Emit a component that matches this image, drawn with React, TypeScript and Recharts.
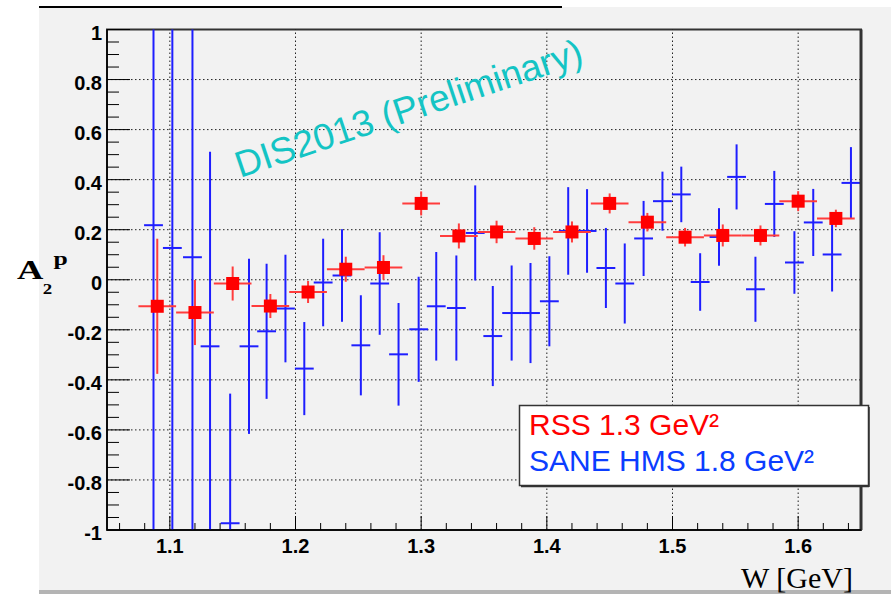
import {
  ComposedChart,
  Scatter,
  ErrorBar,
  XAxis,
  YAxis,
  ReferenceLine,
  ReferenceArea,
} from 'recharts';

// RSS, Q^2 = 1.3 GeV^2 (red squares)
const rssW = [1.09, 1.12, 1.15, 1.18, 1.21, 1.24, 1.27, 1.3, 1.33, 1.36, 1.39, 1.42, 1.45, 1.48, 1.51, 1.54, 1.57, 1.6, 1.63];
const rssA2 = [-0.106, -0.131, -0.015, -0.105, -0.049, 0.042, 0.049, 0.305, 0.175, 0.191, 0.165, 0.191, 0.305, 0.23, 0.17, 0.177, 0.177, 0.314, 0.245];
const rssErr = [0.27, 0.13, 0.068, 0.048, 0.044, 0.05, 0.049, 0.048, 0.05, 0.045, 0.045, 0.042, 0.04, 0.037, 0.037, 0.044, 0.04, 0.04, 0.035];
const rssBinHalf = 0.015;

// SANE HMS, Q^2 = 1.8 GeV^2 (blue crosses)
const saneW = [1.087, 1.102, 1.118, 1.132, 1.148, 1.163, 1.177, 1.192, 1.207, 1.222, 1.237, 1.252, 1.267, 1.282, 1.298, 1.312, 1.328, 1.343, 1.357, 1.372, 1.387, 1.402, 1.417, 1.432, 1.447, 1.462, 1.477, 1.492, 1.507, 1.522, 1.537, 1.551, 1.566, 1.581, 1.597, 1.612, 1.627, 1.642];
const saneA2 = [0.218, 0.127, 0.09, -0.266, -0.973, -0.266, -0.206, -0.115, -0.355, -0.011, 0.017, -0.262, -0.015, -0.298, -0.198, -0.106, -0.113, 0.187, -0.225, -0.133, -0.133, -0.086, 0.195, 0.195, 0.047, -0.015, 0.165, 0.314, 0.341, -0.009, 0.171, 0.411, -0.038, 0.303, 0.069, 0.229, 0.101, 0.387];
const saneErr = [1.5, 1.5, 1.5, 0.777, 0.518, 0.35, 0.27, 0.215, 0.186, 0.175, 0.185, 0.2, 0.205, 0.205, 0.21, 0.217, 0.21, 0.19, 0.2, 0.19, 0.2, 0.18, 0.175, 0.167, 0.16, 0.16, 0.15, 0.118, 0.111, 0.115, 0.115, 0.13, 0.13, 0.132, 0.125, 0.134, 0.148, 0.143];
const saneBinHalf = 0.0075;

const xDomain = [1.05, 1.65];
const yDomain = [-1, 1];
const xGrid = [1.1, 1.2, 1.3, 1.4, 1.5, 1.6];
const yGrid = [-0.8, -0.6, -0.4, -0.2, 0, 0.2, 0.4, 0.6, 0.8];
const xTicks = Array.from({ length: 30 }, (_, i) => Math.round((1.06 + i * 0.02) * 100) / 100);
const yTicks = Array.from({ length: 41 }, (_, i) => Math.round((-1 + i * 0.05) * 100) / 100);

// error bars clipped to the visible frame like ROOT does
const clip = (a: number, e: number) => [a - Math.max(yDomain[0], a - e), Math.min(yDomain[1], a + e) - a];

const rssData = rssW.map((w, i) => ({ w, a: rssA2[i], ex: rssBinHalf, ey: rssErr[i] }));
const saneData = saneW.map((w, i) => ({ w, a: saneA2[i], ex: saneBinHalf, ey: clip(saneA2[i], saneErr[i]) }));

const RED = '#ff0000';
const BLUE = '#1e1eff';
const SANS = '"Liberation Sans", Arial, sans-serif';
const SERIF = '"Liberation Serif", "Times New Roman", serif';

const isMajor = (v: number, step: number) => Math.abs(v / step - Math.round(v / step)) < 1e-6;

const YTick = (p: any) => {
  const v = p.payload.value;
  const major = isMajor(v, 0.2);
  return (
    <g>
      <line x1={p.x} x2={p.x + (major ? 23 : 12)} y1={p.y} y2={p.y} stroke="#000" strokeWidth={1} />
      {major && (
        <text x={p.x - 5} y={p.y + 10} textAnchor="end" fontFamily={SANS} fontWeight="bold" fontSize={20} fill="#000">
          {v === 0 ? '0' : String(v)}
        </text>
      )}
    </g>
  );
};

const XTick = (p: any) => {
  const v = p.payload.value;
  const major = isMajor(v, 0.1);
  return (
    <g>
      <line x1={p.x} x2={p.x} y1={p.y} y2={p.y - (major ? 14 : 7)} stroke="#000" strokeWidth={1} />
      {major && (
        <text x={p.x} y={p.y + 23} textAnchor="middle" fontFamily={SANS} fontWeight="bold" fontSize={20} fill="#000">
          {v.toFixed(1)}
        </text>
      )}
    </g>
  );
};

const RedSquare = (p: any) => <rect x={p.cx - 6.5} y={p.cy - 6.5} width={13} height={13} fill={RED} />;
const NoMarker = () => <g />;

export default function App() {
  return (
    <div style={{ position: 'absolute', left: 0, top: 0, width: 895, height: 594, background: '#fff', overflow: 'hidden' }}>
      <div style={{ position: 'absolute', left: 39, top: 7, width: 852, height: 583, background: '#f2f2f2' }} />
      <div style={{ position: 'absolute', left: 39, top: 590, width: 852, height: 4, background: '#b4b4b4' }} />
      <div style={{ position: 'absolute', left: 39, top: 6, width: 523, height: 2, background: '#000' }} />

      <div style={{ position: 'absolute', left: 0, top: 0 }}>
        <ComposedChart width={895} height={594} margin={{ top: 29.5, right: 34, bottom: 34, left: 0 }}>
          <XAxis
            type="number"
            dataKey="w"
            domain={xDomain}
            ticks={xTicks}
            interval={0}
            allowDataOverflow
            height={30}
            tickSize={0}
            tickMargin={0}
            tickLine={false}
            axisLine={{ stroke: '#000', strokeWidth: 1.5 }}
            tick={(p: any) => <XTick {...p} />}
          />
          <YAxis
            type="number"
            dataKey="a"
            domain={yDomain}
            ticks={yTicks}
            interval={0}
            allowDataOverflow
            width={107}
            tickSize={0}
            tickMargin={0}
            tickLine={false}
            axisLine={{ stroke: '#000', strokeWidth: 1.5 }}
            tick={(p: any) => <YTick {...p} />}
          />
          {xGrid.map((v) => (
            <ReferenceLine key={`gx${v}`} x={v} stroke="#222" strokeWidth={1} strokeDasharray="1.5 2.5" />
          ))}
          {yGrid.map((v) => (
            <ReferenceLine key={`gy${v}`} y={v} stroke="#222" strokeWidth={1} strokeDasharray="1.5 2.5" />
          ))}
          <Scatter data={saneData} dataKey="a" shape={NoMarker} isAnimationActive={false}>
            <ErrorBar dataKey="ey" direction="y" width={0} stroke={BLUE} strokeWidth={2} isAnimationActive={false} />
            <ErrorBar dataKey="ex" direction="x" width={0} stroke={BLUE} strokeWidth={2} isAnimationActive={false} />
          </Scatter>
          <Scatter data={rssData} dataKey="a" shape={RedSquare} isAnimationActive={false}>
            <ErrorBar dataKey="ey" direction="y" width={0} stroke="#ff3c3c" strokeWidth={2} isAnimationActive={false} />
            <ErrorBar dataKey="ex" direction="x" width={0} stroke="#ff3c3c" strokeWidth={2} isAnimationActive={false} />
          </Scatter>
          <ReferenceArea x1={xDomain[0]} x2={xDomain[1]} y1={yDomain[0]} y2={yDomain[1]} fill="none" stroke="#333" strokeWidth={2} />
          <ReferenceLine x={xDomain[1]} stroke="#333" strokeWidth={3} />
        </ComposedChart>
      </div>

      <svg width={895} height={594} style={{ position: 'absolute', left: 0, top: 0, pointerEvents: 'none' }}>
        <text
          x={240}
          y={178}
          transform="rotate(-18.5 240 178)"
          fontFamily={SANS}
          fontSize={37}
          fill="#14c4c4"
        >
          DIS2013 (Preliminary)
        </text>
        <g transform="translate(17 0) scale(1.35 1)" fontFamily={SERIF} fontWeight="bold" fill="#000">
          <text x={0} y={279} fontSize={27}>A</text>
          <text x={19} y={294} fontSize={14}>2</text>
          <text x={27} y={265} fontSize={19}>p</text>
        </g>
        <text x={853} y={588} textAnchor="end" fontFamily={SERIF} fontSize={30} fill="#000">
          W [GeV]
        </text>
        <rect x={519.5} y={405.5} width={349} height={80} fill="#fff" stroke="#333" strokeWidth={1.5} />
        <line x1={869} x2={869} y1={407} y2={487} stroke="#333" strokeWidth={1.5} />
        <line x1={521} x2={869} y1={486.5} y2={486.5} stroke="#333" strokeWidth={1.5} />
        <text x={529} y={434.5} fontFamily={SANS} fontSize={30} fill={RED}>
          RSS 1.3 GeV²
        </text>
        <text x={529} y={471} fontFamily={SANS} fontSize={30} fill="#0b3dff">
          SANE HMS 1.8 GeV²
        </text>
      </svg>
    </div>
  );
}
